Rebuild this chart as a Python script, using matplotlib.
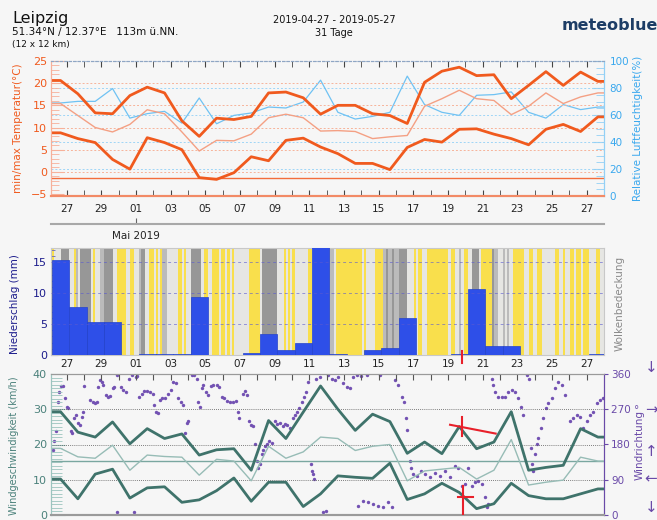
import numpy as np
import matplotlib.pyplot as plt
from matplotlib.colors import ListedColormap

# daily values, 27 Apr .. 28 May 2019 (last day is cut by the right edge)
t_max = [20.6, 17.6, 13.3, 13.1, 17.2, 19.1, 17.8, 11.5, 8.0, 12.1, 11.8, 12.5, 17.8, 18.0, 16.7, 13.0,
         15.0, 15.0, 13.1, 12.7, 10.9, 20.2, 22.7, 23.6, 21.7, 21.9, 16.5, 19.5, 22.6, 19.5, 22.5, 20.4]
t_min = [8.8, 7.5, 6.6, 2.8, 0.6, 7.7, 6.6, 5.0, -1.3, -1.7, -0.2, 3.4, 2.5, 7.1, 7.6, 5.6,
         4.1, 1.9, 1.9, 0.5, 5.5, 7.3, 6.7, 9.6, 9.7, 8.5, 7.5, 6.1, 9.6, 10.7, 9.1, 12.4]
t_mean = [15.4, 12.7, 10.0, 9.0, 10.7, 14.0, 13.1, 9.0, 4.7, 7.1, 7.0, 8.5, 12.2, 13.0, 12.2, 9.2,
          9.3, 9.1, 7.5, 7.9, 8.2, 14.8, 16.5, 18.4, 16.5, 16.1, 12.9, 14.8, 17.8, 15.4, 16.9, 17.8]
humidity = [68.9, 70.1, 70.1, 79.6, 57.7, 61.0, 62.7, 54.0, 72.6, 53.5, 59.7, 61.5, 65.9, 65.2, 69.6, 85.8,
            62.0, 57.0, 59.0, 62.0, 88.8, 67.7, 62.0, 59.7, 74.6, 75.1, 77.1, 62.0, 57.7, 67.7, 64.0, 65.9]
precip = [15.3, 7.8, 5.3, 5.3, 0, 0.1, 0.1, 0.1, 9.4, 0, 0, 0.3, 3.4, 0.8, 1.9, 18.5,
          0.1, 0, 0.8, 1.1, 6.0, 0, 0, 0.1, 10.7, 1.4, 1.5, 0, 0, 0, 0, 0.2]
wind_max = [29.3, 23.5, 22.1, 26.4, 20.2, 24.5, 21.7, 23.0, 17.0, 18.5, 18.8, 12.7, 26.8, 21.7, 29.2, 36.6,
            30.0, 24.0, 28.6, 26.5, 17.5, 20.7, 17.4, 25.1, 18.8, 20.7, 29.3, 12.7, 13.5, 14.1, 24.5, 22.1]
wind_mean = [18.9, 16.5, 16.1, 19.8, 12.7, 17.0, 16.6, 16.4, 11.3, 15.8, 15.3, 9.7, 19.5, 16.1, 17.9, 22.1,
             21.7, 18.3, 19.5, 20.0, 9.7, 12.5, 13.0, 13.5, 10.2, 12.7, 21.4, 8.5, 9.3, 9.9, 16.4, 15.3]
wind_min = [10.2, 4.6, 11.6, 13.0, 4.8, 7.7, 8.0, 3.6, 4.3, 6.9, 10.5, 3.9, 9.3, 9.3, 2.4, 6.0,
            11.1, 10.7, 10.4, 14.7, 4.4, 6.0, 9.0, 6.4, 1.8, 3.2, 9.0, 5.5, 4.6, 4.6, 6.0, 7.4]
wind_ref = 15.3
frost_line = -1.5

# cloud cover, 8 x 3h per day: 0 clear, 1 partly, 2 mostly, 3 overcast
cloud_days = ["01113333", "11021333", "33101122", "33331100", "00110011", "23311001", "01022111", "11001011",
              "33333100", "11000100", "10101111", "11100000", "13333333", "11101010", "11111100", "11111111",
              "22100000", "00000001", "01111000", "02322322", "33331110", "10011000", "00000001", "00112100",
              "11333100", "00032211", "21211000", "00110011", "00111111", "00110110", "01001000", "11100111"]

# wind direction samples (days from the 27 Apr tick, degrees)
dir_day = [-0.81, -0.71, -0.62, -0.48, -0.42, -0.35, -0.23, -0.1, 0.0, 0.1, 0.23, 0.29, 0.42, 0.54, 0.67, 0.77,
           0.87, 0.96, 1.02, 1.35, 1.5, 1.63, 1.73, 1.83, 1.92, 2.02, 2.12, 2.27, 2.4, 2.5, 2.65, 2.75, 2.88, 2.92,
           3.12, 3.27, 3.42, 3.62, 3.75, 3.88, 3.99, 4.08, 4.19, 4.33, 4.46, 4.62, 4.81, 4.96, 5.06, 5.15, 5.25,
           5.38, 5.52, 5.67, 5.87, 6.0, 6.15, 6.31, 6.44, 6.58, 6.69, 6.83, 6.92, 7.02, 7.21, 7.37, 7.5, 7.6,
           7.69, 7.79, 7.88, 8.04, 8.17, 8.31, 8.46, 8.65, 8.81, 8.94, 9.08, 9.23, 9.42, 9.62, 9.77, 9.9, 9.96,
           10.15, 10.29, 10.42, 10.54, 10.62, 10.73, 10.87, 10.96, 11.06, 11.15, 11.25, 11.35, 11.44, 11.54,
           11.69, 11.83, 12.02, 12.15, 12.31, 12.46, 12.6, 12.73, 12.88, 13.04, 13.17, 13.31, 13.42, 13.56,
           13.69, 13.81, 13.94, 14.08, 14.13, 14.19, 14.27, 14.38, 14.62, 14.81, 14.96, 15.1,
           15.29, 15.48, 15.67, 15.96, 16.15, 16.35, 16.54, 16.73, 17.0, 17.31, 18.08, 18.94, 19.13, 19.33,
           19.46, 19.58, 19.65, 19.81, 19.87, 19.96, 20.19, 20.42, 20.67, 20.96, 21.25, 21.54, 21.83, 22.12,
           22.4, 22.6, 22.79, 22.98, 23.17, 23.37, 23.56, 23.75, 23.94, 24.13, 24.23, 24.33, 24.52, 24.62,
           24.71, 24.9, 25.1, 25.29, 25.48, 25.67, 25.87, 26.06, 26.19, 26.31, 26.54, 26.67, 26.79, 26.83,
           26.88, 27.02, 27.12, 27.21, 27.35, 27.5, 27.65, 27.79, 27.98, 28.17, 28.37, 28.56, 28.75, 29.04,
           29.23, 29.42, 29.62, 29.81, 30.0, 30.19, 30.38, 30.58, 30.77, 30.96,
           16.83, 17.12, 17.4, 17.69, 17.98, 18.27, 18.56, 18.75]
dir_deg = [167, 188, 214, 289, 315, 330, 330, 298, 277, 272, 214, 209, 247, 256, 235, 230,
           251, 264, 330, 294, 288, 285, 289, 327, 344, 340, 331, 306, 302, 304, 323, 327, 358, 8,
           327, 319, 315, 348, 357, 8, 352, 355, 302, 310, 316, 316, 315, 310, 281, 264, 260,
           293, 298, 298, 310, 319, 340, 336, 298, 289, 281, 209, 235, 241, 357, 357, 348, 289,
           277, 323, 331, 315, 306, 330, 333, 331, 327, 302, 298, 291, 289, 288, 291, 264, 247,
           310, 316, 306, 239, 230, 226, 180, 138, 121, 130, 155, 167, 176, 180,
           188, 184, 239, 232, 235, 226, 232, 230, 222, 247, 256, 264, 272, 289,
           302, 315, 340, 130, 113, 104, 92, 348, 352, 8, 10, 357,
           348, 344, 352, 336, 327, 323, 352, 357, 355, 357, 357, 344, 331, 302,
           289, 247, 218, 138, 121, 104, 100, 113, 104, 96, 108, 100, 113, 96,
           125, 121, 75, 79, 121, 75, 83, 87, 79, 45, 20, 29, 348, 331,
           315, 302, 302, 302, 315, 319, 315, 298, 277, 256, 357, 348, 172, 130,
           113, 155, 180, 197, 222, 247, 272, 285, 298, 323, 340, 331, 306, 239,
           247, 256, 251, 222, 239, 256, 264, 285, 294, 298,
           24, 37, 33, 29, 24, 20, 33, 20]

day_labels = ['27', '29', '01', '03', '05', '07', '09', '11', '13', '15', '17', '19', '21', '23', '25', '27']

# red marks drawn on the original
mark_day = 22.79
cross_a = ([22.12, 24.75], [25.6, 23.1])
cross_b = ([22.58, 23.46], [5.0, 5.0])

ORANGE = '#f05a1e'
BLUE = '#3aa8ee'
TEAL = '#3f736b'
PURPLE = '#6a4aa8'
BG = '#f6f6f6'

days = np.arange(len(t_max))
mid = days - 0.35     # noon of each day on the tick scale
start = days - 0.85   # start of each day
X0, X1 = -0.9, 31.0
xs = np.r_[X0, mid, X1]


def ext(v):
    return np.r_[v[0], v, v[-1]]


W, H = 657, 520


def box(l, t, r, b):
    return [l / W, 1 - b / H, (r - l) / W, (b - t) / H]


fig = plt.figure(figsize=(6.57, 5.2), dpi=100)
fig.patch.set_facecolor(BG)

# ---------------- temperature / humidity ----------------
ax1 = fig.add_axes(box(51, 61, 604, 196))
ax1h = ax1.twinx()
ax1.set_zorder(ax1h.get_zorder() + 1)
ax1.patch.set_visible(False)
ax1.set_xlim(X0, X1)
ax1.set_ylim(-5.45, 25)
ax1h.set_ylim(0, 100)

for v in (0, 5, 10, 15, 20):
    ax1.axhline(v, color='#f7b39a', lw=0.7, ls=(0, (2, 2)))
for v in (20, 40, 60, 80):
    ax1h.axhline(v, color='#9fd5f6', lw=0.7, ls=(0, (2, 2)))
ax1.axhline(frost_line, color='#f36d3c', lw=1.0)

ax1h.plot(xs, ext(humidity), color='#6fc2f3', lw=0.9)
ax1.plot(xs, ext(t_mean), color='#f4a084', lw=1.0)
ax1.plot(xs, ext(t_max), color=ORANGE, lw=2.0)
ax1.plot(xs, ext(t_min), color=ORANGE, lw=2.0)

ax1.set_yticks(range(-5, 26, 5))
ax1.set_yticks(range(-5, 26), minor=True)
ax1.tick_params(axis='y', which='both', direction='in', color='#f7b09a', labelcolor=ORANGE,
                labelsize=8, pad=3)
ax1.tick_params(axis='y', which='major', length=9)
ax1.tick_params(axis='y', which='minor', length=6)
ax1.set_xticks(range(0, 31, 2))
ax1.set_xticklabels(day_labels)
ax1.set_xticks(range(0, 31), minor=True)
ax1.tick_params(axis='x', which='both', direction='in', top=True, bottom=True, length=4,
                color='#444444', labelsize=7.5, labelcolor='#222222', pad=6)

ax1h.set_yticks(range(0, 101, 20))
ax1h.set_yticks(range(0, 101, 5), minor=True)
ax1h.tick_params(axis='y', which='both', direction='in', color='#93d0f5', labelcolor=BLUE,
                 labelsize=7.5, pad=4)
ax1h.tick_params(axis='y', which='major', length=9)
ax1h.tick_params(axis='y', which='minor', length=6)

for a in (ax1, ax1h):
    a.spines['top'].set_color('#8fa6c4')
    a.spines['top'].set_linestyle((0, (2, 2)))
    a.spines['bottom'].set_color('#f28a66')
    a.spines['bottom'].set_linewidth(1.5)
    a.spines['left'].set_color('#f7b09a')
    a.spines['right'].set_color('#93d0f5')

sec = ax1.secondary_xaxis(-0.207)
sec.set_xticks([4])
sec.set_xticklabels(['Mai 2019'])
sec.tick_params(direction='in', length=4, color='#666666', labelsize=7.5, labelcolor='#222222', pad=5)
sec.spines['bottom'].set_color('#a8a8a8')
sec.spines['bottom'].set_linewidth(1.5)

# ---------------- precipitation / clouds ----------------
ax2 = fig.add_axes(box(51, 248, 604, 355))
ax2.set_xlim(X0, X1)
ax2.set_ylim(0, 17.3)
cloud = np.array([int(c) for c in ''.join(cloud_days)])
edges = -0.85 + np.arange(len(cloud) + 1) / 8
cmap = ListedColormap(['#f9df4c', '#e6e6e3', '#bbbbbb', '#979797'])
ax2.pcolormesh(edges, [0, 17.3], cloud[None, :], cmap=cmap, vmin=-0.5, vmax=3.5, shading='flat')
ax2.bar(start, precip, width=1, align='edge', color='#2e4fe8', edgecolor='#2443cc', lw=0.5, zorder=3)
for v in (5, 10, 15):
    ax2.axhline(v, color='#5a5ad0', lw=0.7, ls=(0, (3, 3)), alpha=0.6, zorder=4)
ax2.plot([mark_day, mark_day], [0.7, -1.3], color='#e8202a', lw=1.5, clip_on=False, zorder=6)

ax2.set_yticks([0, 5, 10, 15])
ax2.set_yticks(range(0, 18), minor=True)
ax2.tick_params(axis='y', which='both', direction='in', color='#6a6ab0', labelcolor='#1c1c8c',
                labelsize=8, pad=3)
ax2.tick_params(axis='y', which='major', length=5)
ax2.tick_params(axis='y', which='minor', length=3)
ax2.set_xticks(range(0, 31, 2))
ax2.set_xticklabels(day_labels)
ax2.tick_params(axis='x', length=0, labelsize=7.5, labelcolor='#222222', pad=3)
for s in ax2.spines.values():
    s.set_color('#c8c8c8')

# ---------------- wind ----------------
ax3 = fig.add_axes(box(51, 374, 604, 515))
ax3d = ax3.twinx()
ax3.set_zorder(ax3d.get_zorder() + 1)
ax3.patch.set_visible(False)
ax3.set_xlim(X0, X1)
ax3.set_ylim(0, 40)
ax3d.set_ylim(0, 360)

ax3d.scatter(dir_day, dir_deg, s=6, color='#7352b3', lw=0)
for v in (10, 20, 30):
    ax3.axhline(v, color='#555555', lw=0.6, ls=(0, (1, 1.5)))
ax3.axhline(wind_ref, color='#7aa7a0', lw=1.0)
ax3.plot(xs, ext(wind_mean), color='#97bcb6', lw=1.0)
ax3.plot(xs, ext(wind_max), color=TEAL, lw=2.0)
ax3.plot(xs, ext(wind_min), color=TEAL, lw=2.0)

ax3.plot([mark_day, mark_day], [22.3, 27.9], color='#e8202a', lw=1.5, zorder=6)
ax3.plot(cross_a[0], cross_a[1], color='#e8202a', lw=1.5, zorder=6)
ax3.plot([22.88, 22.88], [8.3, 0], color='#e8202a', lw=1.5, zorder=6)
ax3.plot(cross_b[0], cross_b[1], color='#e8202a', lw=1.5, zorder=6)

ax3.set_yticks(range(0, 41, 10))
ax3.set_yticks(range(0, 41), minor=True)
ax3.tick_params(axis='y', which='both', direction='in', color='#9cc4bf', labelcolor='#4b817b',
                labelsize=8, pad=3)
ax3.tick_params(axis='y', which='major', length=10)
ax3.tick_params(axis='y', which='minor', length=8)
ax3.set_xticks(range(0, 31))
ax3.tick_params(axis='x', direction='in', top=True, bottom=False, labelbottom=False, length=4,
                color='#555555')

ax3d.set_yticks([0, 90, 180, 270, 360])
ax3d.set_yticklabels(['0', '90', '180', '270 °', '360'])
ax3d.tick_params(axis='y', direction='out', length=3, color=PURPLE, labelcolor=PURPLE,
                 labelsize=7.5, pad=2)
for a in (ax3, ax3d):
    a.spines['top'].set_color('#9a9a9a')
    a.spines['bottom'].set_color('#9a9a9a')
    a.spines['bottom'].set_linewidth(1.5)
    a.spines['left'].set_color('#9cc4bf')
    a.spines['right'].set_color(PURPLE)

# ---------------- labels and header ----------------
fig.text(18 / W, 1 - 128 / H, 'min/max Temperatur(°C)', rotation=90, ha='center', va='center',
         color=ORANGE, fontsize=7.5)
fig.text(638 / W, 1 - 128 / H, 'Relative Luftfeuchtigkeit(%)', rotation=90, ha='center', va='center',
         color=BLUE, fontsize=7.5)
fig.text(15 / W, 1 - 304 / H, 'Niederschlag (mm)', rotation=90, ha='center', va='center',
         color='#1c1c8c', fontsize=7.5)
fig.text(620 / W, 1 - 303 / H, 'Wolkenbedeckung', rotation=90, ha='center', va='center',
         color='#8a8a8a', fontsize=7.5)
fig.text(14 / W, 1 - 446 / H, 'Windgeschwindigkeit (km/h)', rotation=90, ha='center', va='center',
         color='#4b817b', fontsize=7)
fig.text(640 / W, 1 - 445 / H, 'Windrichtung', rotation=90, ha='center', va='center',
         color=PURPLE, fontsize=7.5)
for sym, yy in (('↓', 367), ('→', 410), ('↑', 452), ('←', 479), ('↓', 507)):
    fig.text(651 / W, 1 - yy / H, sym, ha='center', va='center', color=PURPLE, fontsize=11)

fig.text(12 / W, 1 - 18 / H, 'Leipzig', fontsize=11.5, va='center', color='#111111')
fig.text(12 / W, 1 - 32 / H, '51.34°N / 12.37°E   113m ü.NN.', fontsize=7.5, va='center', color='#111111')
fig.text(12 / W, 1 - 45 / H, '(12 x 12 km)', fontsize=6.5, va='center', color='#111111')
fig.text(334 / W, 1 - 20 / H, '2019-04-27 - 2019-05-27', fontsize=7, ha='center', va='center',
         color='#111111')
fig.text(334 / W, 1 - 33 / H, '31 Tage', fontsize=7, ha='center', va='center', color='#111111')
fig.text(610 / W, 1 - 25 / H, 'meteoblue', fontsize=11.5, ha='center', va='center', color='#1d3d66',
         fontweight='bold')

fig.savefig('out.png', dpi=100, facecolor=BG)
